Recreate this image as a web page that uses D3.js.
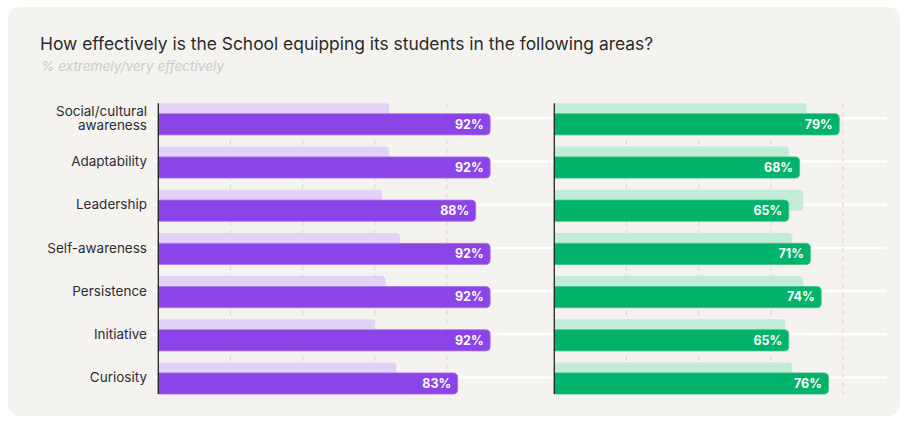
<!DOCTYPE html>
<html>
<head>
<meta charset="utf-8">
<script src="https://cdn.jsdelivr.net/npm/d3@7"></script>
<style>
  body { margin: 0; background: #ffffff; }
  svg { display: block; }
</style>
</head>
<body>
<script>
// data
const categories = ['Social/cultural\nawareness', 'Adaptability', 'Leadership', 'Self-awareness', 'Persistence', 'Initiative', 'Curiosity'];
const leftCurrent = [92, 92, 88, 92, 92, 92, 83];
const leftPrevious = [64, 64, 62, 67, 63, 60, 66];
const rightCurrent = [79, 68, 65, 71, 74, 65, 76];
const rightPrevious = [70, 65, 69, 66, 69, 64, 66];
const gridTicks = [20, 40, 60, 80];

const title = 'How effectively is the School equipping its students in the following areas?';
const subtitle = '% extremely/very effectively';

let dim = { width: 908, height: 421 };
let svg = d3.select('body').append('svg').attr('width', dim.width).attr('height', dim.height);

// panel background
svg.append('rect')
  .attr('x', 8).attr('y', 7).attr('width', 892).attr('height', 409)
  .attr('rx', 12).attr('fill', '#f4f3f0');

svg.append('text')
  .attr('x', 40).attr('y', 50)
  .attr('font-family', 'Inter, sans-serif')
  .attr('font-size', 17.4)
  .attr('fill', '#2b2b2b')
  .text(title);

svg.append('text')
  .attr('x', 41).attr('y', 71)
  .attr('font-family', 'Inter, sans-serif')
  .attr('font-size', 13.6)
  .attr('font-style', 'italic')
  .attr('fill', '#cbcbcb')
  .text(subtitle);

let y = d3.scaleBand().domain(categories).range([96.7, 399.1]);
let center = (c) => y(c) + y.bandwidth() / 2;

let xLeft = d3.scaleLinear([0, 100], [158.3, 519]);
let xRight = d3.scaleLinear([0, 100], [554.3, 915]);

// white row lines
svg.append('g').selectAll('line')
  .data(categories)
  .enter()
  .append('line')
  .attr('x1', 153).attr('x2', 887)
  .attr('y1', center).attr('y2', center)
  .attr('stroke', '#ffffff')
  .attr('stroke-width', 2.5);

function barPath(x0, x1, top, h, r) {
  r = Math.min(r, x1 - x0);
  return `M${x0},${top}H${x1 - r}Q${x1},${top} ${x1},${top + r}V${top + h - r}Q${x1},${top + h} ${x1 - r},${top + h}H${x0}Z`;
}

const yTop = y(categories[0]) + y.bandwidth() / 2 - 15;
const yBottom = y(categories[categories.length - 1]) + y.bandwidth() / 2 + 16.6;

function panel(x, current, previous, dark, light, edge) {
  let g = svg.append('g');

  // dashed gridlines
  g.selectAll('line.grid')
    .data(gridTicks)
    .enter()
    .append('line')
    .attr('class', 'grid')
    .attr('x1', x).attr('x2', x)
    .attr('y1', yTop).attr('y2', yBottom)
    .attr('stroke', '#e2d8d8')
    .attr('stroke-width', 1.2)
    .attr('stroke-dasharray', '5,4');

  // previous values
  g.selectAll('path.prev')
    .data(previous)
    .enter()
    .append('path')
    .attr('class', 'prev')
    .attr('fill', light)
    .attr('d', (d, i) => barPath(x(0), x(d), center(categories[i]) - 15, 21, 4));

  // current values
  g.selectAll('path.cur')
    .data(current)
    .enter()
    .append('path')
    .attr('class', 'cur')
    .attr('fill', dark)
    .attr('stroke', edge)
    .attr('stroke-width', 0.8)
    .attr('d', (d, i) => barPath(x(0), x(d), center(categories[i]) - 4.6, 21.2, 4.5));

  g.selectAll('text.val')
    .data(current)
    .enter()
    .append('text')
    .attr('class', 'val')
    .attr('x', (d) => x(d) - 6.5)
    .attr('y', (d, i) => center(categories[i]) + 6)
    .attr('dy', '0.35em')
    .attr('text-anchor', 'end')
    .attr('font-family', 'Inter, sans-serif')
    .attr('font-weight', 700)
    .attr('font-size', 12.5)
    .attr('fill', '#ffffff')
    .text((d) => d + '%');

  // axis line
  g.append('line')
    .attr('x1', x(0)).attr('x2', x(0))
    .attr('y1', yTop).attr('y2', yBottom)
    .attr('stroke', '#222222')
    .attr('stroke-width', 1.3);
}

panel(xLeft, leftCurrent, leftPrevious, '#8a44e8', '#e3d2f8', '#a874f0');
panel(xRight, rightCurrent, rightPrevious, '#00b26a', '#c3ecd8', '#3cc488');

// category labels
let labels = svg.append('g').selectAll('text')
  .data(categories)
  .enter()
  .append('text')
  .attr('text-anchor', 'end')
  .attr('font-family', 'Inter, sans-serif')
  .attr('font-size', 13.5)
  .attr('fill', '#2e2e2e');

labels.each(function (d) {
  let lines = d.split('\n');
  let t = d3.select(this);
  lines.forEach((l, k) => {
    t.append('tspan')
      .attr('x', 147)
      .attr('y', center(d) + (k - (lines.length - 1) / 2) * 14.5)
      .attr('dy', '0.35em')
      .text(l);
  });
});
</script>
</body>
</html>
